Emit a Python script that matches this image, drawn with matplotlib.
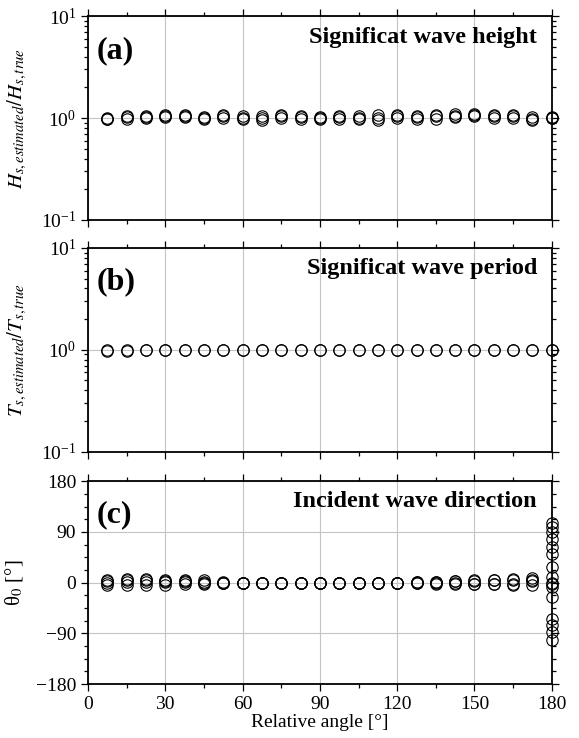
import numpy as np
import matplotlib
matplotlib.use("Agg")
import matplotlib.pyplot as plt
from matplotlib.ticker import MultipleLocator, LogLocator, NullFormatter

plt.rcParams["font.family"] = ["Liberation Serif", "DejaVu Serif"]
plt.rcParams["mathtext.fontset"] = "stix"

# relative angle between waves and ship [deg]
angles = [7.5, 15, 22.5, 30, 37.5, 45, 52.5, 60, 67.5, 75, 82.5, 90,
          97.5, 105, 112.5, 120, 127.5, 135, 142.5, 150, 157.5, 165, 172.5, 180]

# Hs estimated / Hs true (several sea states)
hs_1 = [1.00, 1.06, 1.05, 1.08, 1.07, 1.03, 1.08, 1.05, 1.05, 1.07, 1.04, 1.02,
        1.05, 1.06, 1.07, 1.08, 1.05, 1.08, 1.10, 1.10, 1.08, 1.07, 1.02, 1.03]
hs_2 = [0.97, 0.99, 1.00, 1.02, 1.03, 0.98, 1.00, 0.97, 0.96, 1.01, 0.99, 0.98,
        0.99, 0.97, 0.96, 1.00, 0.98, 0.99, 1.03, 1.05, 1.00, 1.00, 0.96, 1.00]
hs_3 = [0.98, 1.02, 1.02, 1.04, 1.05, 1.00, 1.04, 1.01, 1.00, 1.04, 1.02, 1.00,
        1.02, 1.01, 1.01, 1.04, 1.02, 1.04, 1.06, 1.08, 1.04, 1.04, 0.98, 1.01]

# Ts estimated / Ts true
ts_1 = [1.00, 1.00, 1.00, 1.00, 1.00, 1.00, 1.00, 1.00, 1.00, 1.00, 1.00, 1.00,
        1.00, 1.00, 1.00, 1.00, 1.00, 1.00, 1.00, 1.00, 1.00, 1.00, 1.00, 1.00]
ts_2 = [0.98, 0.97, 1.00, 0.99, 1.00, 1.00, 1.00, 0.99, 1.00, 1.00, 1.00, 1.00,
        1.00, 1.00, 1.00, 0.99, 1.00, 1.00, 1.00, 1.00, 0.99, 1.00, 0.99, 0.99]

# incident wave direction theta_0 [deg]
th_1 = [5, 6, 6, 5, 5, 4, 1, 0, 0, 0, 0, 0, 0, 0, 0, 0, 1, 2, 3, 4, 5, 6, 8, 105]
th_2 = [-5, -5, -4, -4, -3, -3, -1, 0, 0, 0, 0, 0, 0, 0, 0, 0, -1, -2, -3, -3, -3, -4, -5, -102]
th_3 = [3, 4, 4, 3, 3, 2, 0, 0, 0, 0, 0, 0, 0, 0, 0, 0, 1, 2, 3, 3, 4, 5, 3, 10]
th_4 = [0, 2, 2, 1, 1, 0, 0, 0, 0, 0, 0, 0, 0, 0, 0, 0, 0, -1, -1, -2, -2, -3, 4, -3]
# extra estimates at 180 deg (ambiguous direction)
th_180 = [98, 90, 78, 63, 50, 28, 0, -8, -25, -64, -76, -87]

fig = plt.figure(figsize=(5.79, 7.38), dpi=100)
left, width = 0.152, 0.801
ax_a = fig.add_axes([left, 0.702, width, 0.276])
ax_b = fig.add_axes([left, 0.388, width, 0.276])
ax_c = fig.add_axes([left, 0.073, width, 0.275])

mk = dict(ls="none", marker="o", ms=8.2, mfc="none", mec="black", mew=0.8,
          zorder=3, clip_on=False)


def style_axis(ax):
    ax.set_xlim(0, 180)
    ax.xaxis.set_major_locator(MultipleLocator(30))
    ax.xaxis.set_minor_locator(MultipleLocator(15))
    ax.tick_params(which="both", direction="out", top=True, right=True,
                   labelsize=14, width=0.9)
    ax.tick_params(which="major", length=5)
    ax.tick_params(which="minor", length=3)
    for s in ax.spines.values():
        s.set_linewidth(1.3)
    ax.grid(True, which="major", color="#c4c4c4", lw=0.8, zorder=0)
    ax.set_axisbelow(True)


for ax, series, lab, title in [
        (ax_a, [hs_1, hs_2, hs_3], r"$H_{s,estimated}/H_{s,true}$", "Significat wave height"),
        (ax_b, [ts_1, ts_2], r"$T_{s,estimated}/T_{s,true}$", "Significat wave period")]:
    for s in series:
        ax.plot(angles, s, **mk)
    ax.set_yscale("log")
    ax.set_ylim(0.1, 10)
    ax.yaxis.set_major_locator(LogLocator(base=10, numticks=5))
    ax.yaxis.set_minor_locator(LogLocator(base=10, subs=np.arange(2, 10), numticks=10))
    ax.yaxis.set_minor_formatter(NullFormatter())
    style_axis(ax)
    ax.tick_params(axis="x", labelbottom=False)
    ax.set_ylabel(lab, fontsize=15)
    ax.yaxis.set_label_coords(-0.128, 0.5)
    ax.text(0.968, 0.897, title, transform=ax.transAxes, ha="right", va="center",
            fontsize=17.5, fontweight="bold")

ax_a.text(0.019, 0.833, "(a)", transform=ax_a.transAxes, ha="left", va="center",
          fontsize=23, fontweight="bold")
ax_b.text(0.019, 0.833, "(b)", transform=ax_b.transAxes, ha="left", va="center",
          fontsize=23, fontweight="bold")

for s in [th_1, th_2, th_3, th_4]:
    ax_c.plot(angles, s, **mk)
ax_c.plot([180] * len(th_180), th_180, **mk)
ax_c.set_ylim(-180, 180)
ax_c.yaxis.set_major_locator(MultipleLocator(90))
ax_c.yaxis.set_minor_locator(MultipleLocator(22.5))
style_axis(ax_c)
ax_c.set_yticklabels(["\u2212180" if v < -100 else ("\u221290" if v < 0 else f"{int(v)}")
                      for v in ax_c.get_yticks()])
ax_c.set_ylabel("\u03b8$_0$ [\u00b0]", fontsize=15)
ax_c.yaxis.set_label_coords(-0.135, 0.5)
ax_c.set_xlabel("Relative angle [\u00b0]", fontsize=14, labelpad=1)
ax_c.text(0.968, 0.898, "Incident wave direction", transform=ax_c.transAxes,
          ha="right", va="center", fontsize=17.5, fontweight="bold")
ax_c.text(0.019, 0.833, "(c)", transform=ax_c.transAxes, ha="left", va="center",
          fontsize=23, fontweight="bold")

fig.savefig("out.png", dpi=100)
